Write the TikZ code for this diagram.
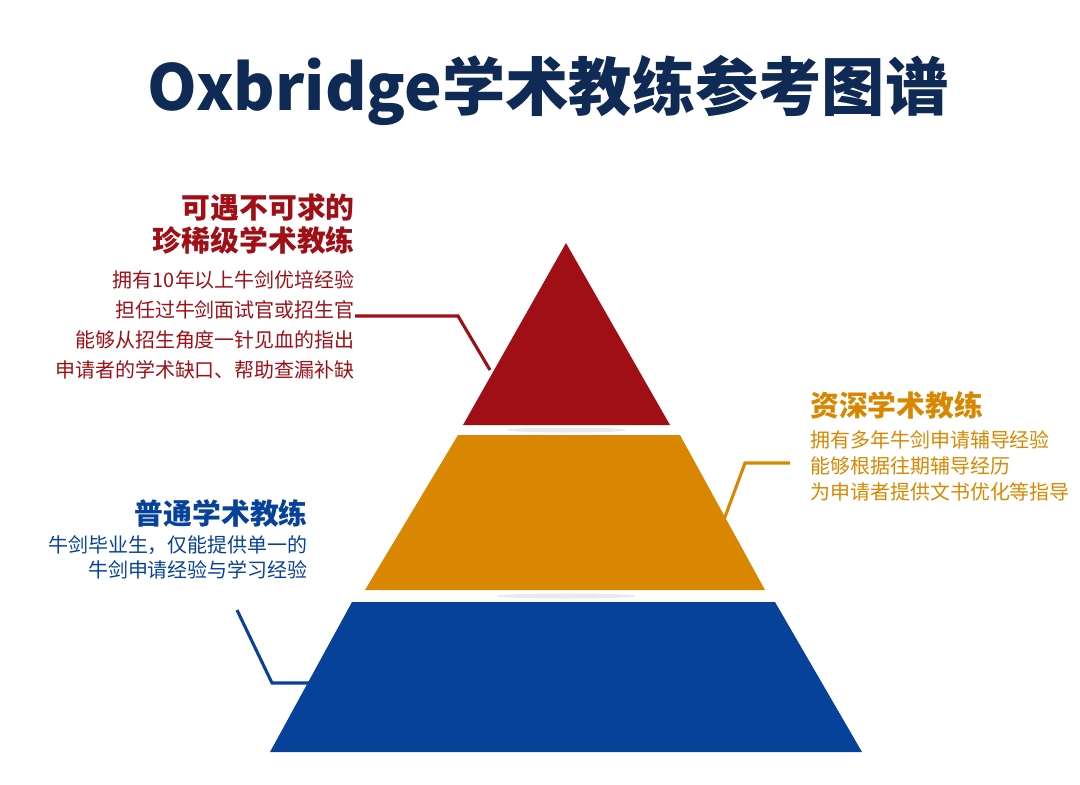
\documentclass[tikz,border=0pt]{standalone}
\usepackage{fontspec}
\setmainfont{Noto Sans CJK SC}
\usetikzlibrary{positioning}
\definecolor{topred}{HTML}{A00F16}
\definecolor{midorange}{HTML}{D98700}
\definecolor{lowblue}{HTML}{07429A}
\definecolor{titlenavy}{HTML}{102A56}
\begin{document}
\begin{tikzpicture}[x=0.025cm,y=-0.025cm,
  head/.style={font=\fontsize{20.5}{23}\selectfont\bfseries,inner sep=0pt},
  body/.style={font=\fontsize{14.2}{21.3}\selectfont,inner sep=0pt},
  leader/.style={line width=2.2pt},
]
  \useasboundingbox (0,0) rectangle (1080,784);
  % Title
  \node[font=\fontsize{45}{50}\selectfont\bfseries,text=titlenavy] (title) at (548,90) {Oxbridge学术教练参考图谱};

  % Pyramid layers
  \fill[gray!50,opacity=.35] (566,430) ellipse (60 and 2.5);
  \fill[gray!50,opacity=.35] (566,596) ellipse (70 and 2.5);
  \fill[topred] (566,243) -- (670,425) -- (463,425) -- cycle;
  \fill[midorange] (458,435) -- (680,435) -- (765,590) -- (365,590) -- cycle;
  \fill[lowblue] (352,602) -- (775,602) -- (862,752) -- (270,752) -- cycle;

  % Top level
  \node[head,text=topred,anchor=east,align=right] (toph) at (355,224) {可遇不可求的\\珍稀级学术教练};
  \node[body,text=topred,anchor=north east,align=right] (topb) at (355,270)
    {拥有10年以上牛剑优培经验\\担任过牛剑面试官或招生官\\能够从招生角度一针见血的指出\\申请者的学术缺口、帮助查漏补缺};
  \coordinate (topa) at (355,316);
  \coordinate (topc) at (490,370);
  \draw[leader,topred] (topa) -- (458,316) -- (topc);

  % Middle level
  \node[head,text=midorange,anchor=west] (midh) at (810,405) {资深学术教练};
  \node[body,text=midorange,anchor=north west,align=left,
        font=\fontsize{14.2}{18.5}\selectfont] (midb) at (810,430)
    {拥有多年牛剑申请辅导经验\\能够根据往期辅导经历\\为申请者提供文书优化等指导};
  \coordinate (mida) at (790,463);
  \coordinate (midc) at (722,525);
  \draw[leader,midorange] (mida) -- (745,463) -- (midc);

  % Lower level
  \node[head,text=lowblue,anchor=east] (lowh) at (308,513) {普通学术教练};
  \node[body,text=lowblue,anchor=north east,align=right,
        font=\fontsize{14.2}{18}\selectfont] (lowb) at (308,535)
    {牛剑毕业生，仅能提供单一的\\牛剑申请经验与学习经验};
  \coordinate (lowa) at (237,610);
  \coordinate (lowc) at (312,683);
  \draw[leader,lowblue] (lowa) -- (272,683) -- (lowc);
\end{tikzpicture}
\end{document}
